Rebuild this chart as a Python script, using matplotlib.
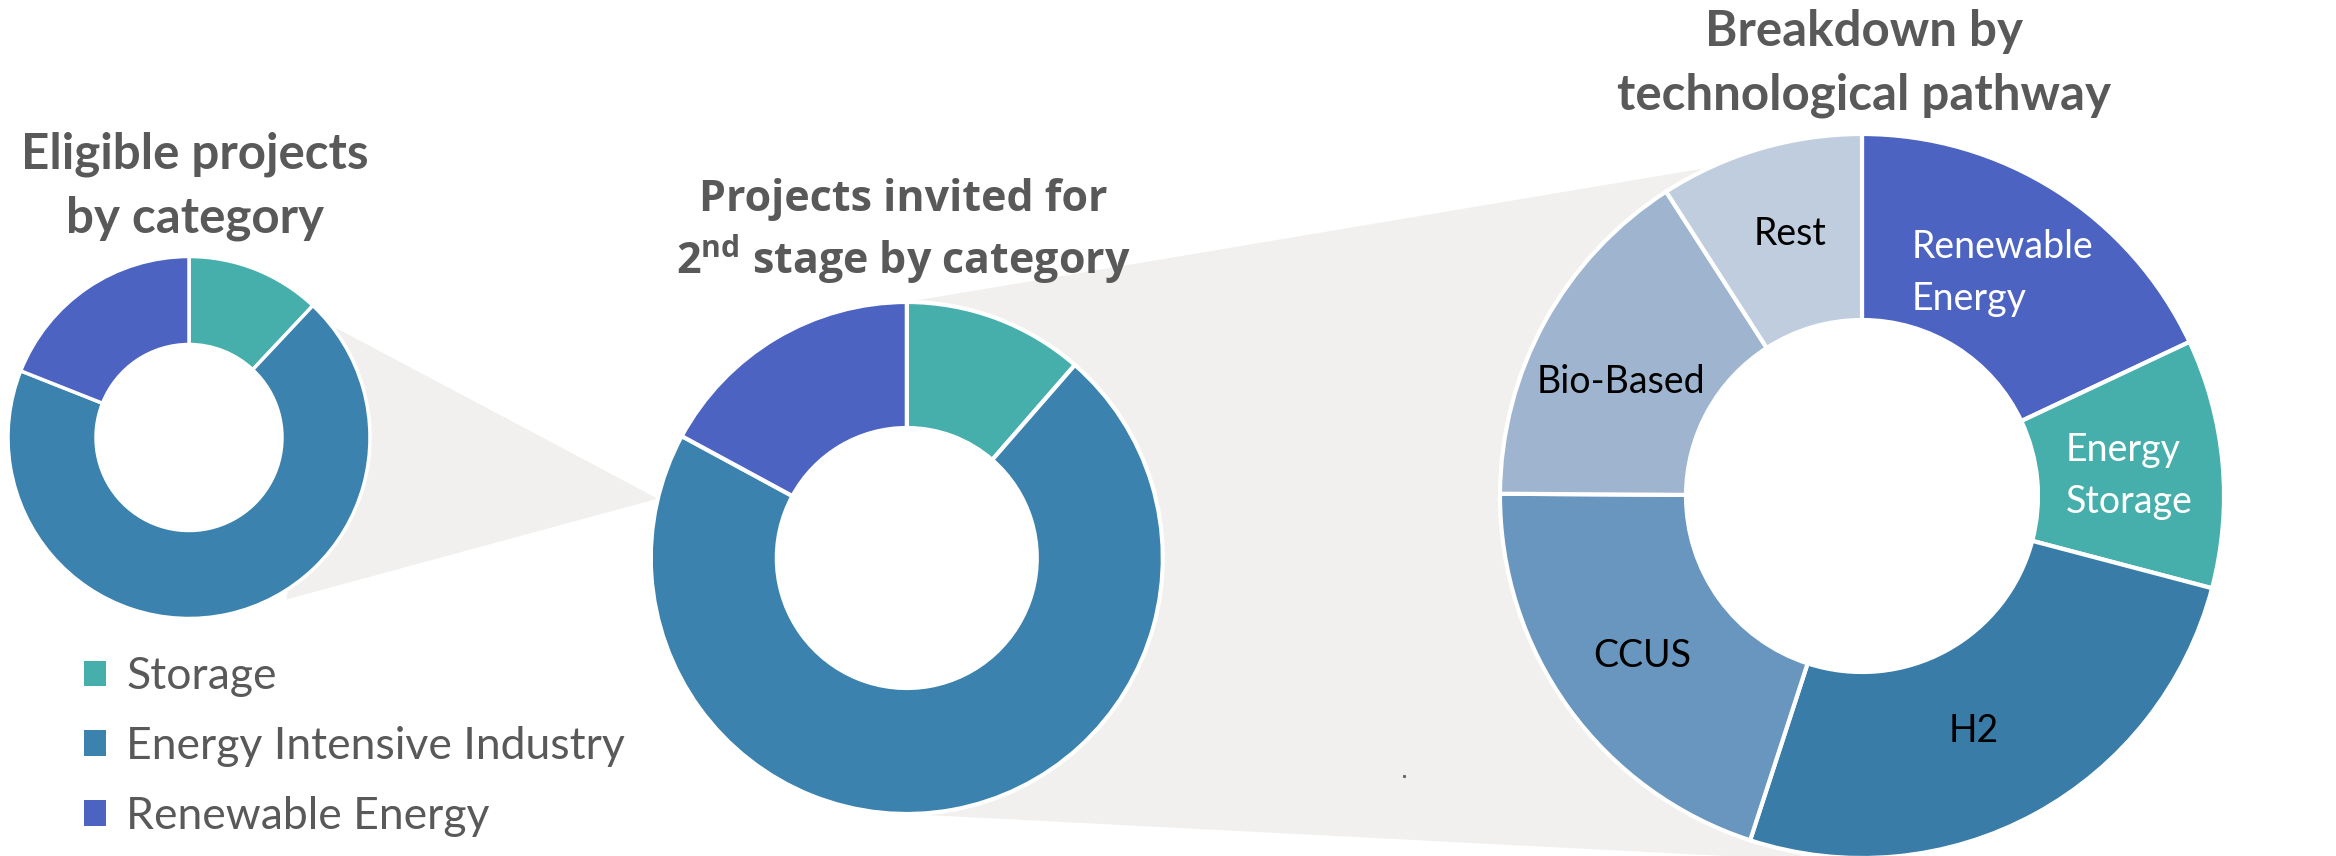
import numpy as np
import matplotlib
matplotlib.use('Agg')
import matplotlib.pyplot as plt
from matplotlib.patches import Polygon, Circle

# Data (shares in %)
categories = ['Storage', 'Energy Intensive Industry', 'Renewable Energy']
eligible = [12.0, 69.0, 19.0]
invited = [11.4, 71.5, 17.1]

pathways = ['Renewable\nEnergy', 'Energy\nStorage', 'H2', 'CCUS', 'Bio-Based', 'Rest']
pathway_share = [18.0, 11.1, 25.9, 20.1, 15.8, 9.1]

cat_colors = ['#46AFAC', '#3B82AE', '#4C63C2']
path_colors = ['#4C63C2', '#46AFAC', '#397CA8', '#6896BE', '#9EB4CF', '#BFCDDE']
path_text = ['white', 'white', 'black', 'black', 'black', 'black']

W, H = 2336, 856
GREY_TXT = '#595959'
CONNECT = '#F1F0EE'

plt.rcParams['mathtext.fontset'] = 'custom'
plt.rcParams['mathtext.rm'] = 'Open Sans'
plt.rcParams['mathtext.bf'] = 'Open Sans:bold'

fig = plt.figure(figsize=(W / 100, H / 100), dpi=100)
ax = fig.add_axes([0, 0, 1, 1])

# donut geometry in pixel coords (y goes down)
c1, r1, h1 = (189, 437.5), 181, 93
c2, r2, h2 = (906.8, 558), 256, 130
c3, r3, h3 = (1862, 496), 362, 176


def on_circle(c, r, a):
    a = np.radians(a)
    return (c[0] + r * np.cos(a), c[1] - r * np.sin(a))


# grey "zoom" connectors behind the donuts
left_conn = [on_circle(c1, r1, 38.3), on_circle(c1, r1 + 8, -59), on_circle(c2, r2, 166.6)]
ax.add_patch(Polygon(left_conn, closed=True, facecolor=CONNECT, edgecolor='none', zorder=0))
p_bot = on_circle(c2, r2, -90)
right_conn = [on_circle(c2, r2, 90), on_circle(c3, r3, 114.8), c3,
              (1800, p_bot[1] + 0.0513 * (1800 - p_bot[0])), p_bot]
ax.add_patch(Polygon(right_conn, closed=True, facecolor=CONNECT, edgecolor='none', zorder=0))
# keep the donut holes white
for c, h in [(c1, h1), (c2, h2), (c3, h3)]:
    ax.add_patch(Circle(c, h + 2, facecolor='white', edgecolor='none', zorder=0.5))

# y axis is inverted, so counterclock=True / startangle=-90 draws clockwise from the top
w1, _ = ax.pie(eligible, colors=cat_colors, center=c1, radius=r1, startangle=-90,
               counterclock=True, wedgeprops=dict(width=r1 - h1, edgecolor='white', linewidth=2.5))
ax.pie(invited, colors=cat_colors, center=c2, radius=r2, startangle=-90,
       counterclock=True, wedgeprops=dict(width=r2 - h2, edgecolor='white', linewidth=3))
ax.pie(pathway_share, colors=path_colors, center=c3, radius=r3, startangle=-90,
       counterclock=True, wedgeprops=dict(width=r3 - h3, edgecolor='white', linewidth=3))

ax.set_xlim(0, W)
ax.set_ylim(H, 0)
ax.set_aspect('equal')
ax.axis('off')

# titles
tkw = dict(ha='center', va='baseline', color=GREY_TXT, fontweight='bold')
ax.text(195, 168, 'Eligible projects', family='Lato', fontsize=35.5, **tkw)
ax.text(195, 232, 'by category', family='Lato', fontsize=35.5, **tkw)
ax.text(903, 211, 'Projects invited for', family='Open Sans', fontsize=31, **tkw)
ax.text(903, 274, r'2$^{\mathbf{nd}}$ stage by category', family='Open Sans', fontsize=31, **tkw)
ax.text(1864, 46, 'Breakdown by', family='Lato', fontsize=35.5, **tkw)
ax.text(1864, 109, 'technological pathway', family='Lato', fontsize=35.5, **tkw)

# labels on the right donut (y = baseline of the last line)
label_pos = [(1912, 310, 'left'), (2066, 513, 'left'), (1974, 741.7, 'center'),
             (1642.6, 667, 'center'), (1621, 393, 'center'), (1790, 244.5, 'center')]
for name, (x, y, ha), col in zip(pathways, label_pos, path_text):
    ax.text(x, y, name, ha=ha, va='baseline', family='Lato', fontsize=27,
            color=col, linespacing=1.55)

# stray dot from the original slide
ax.plot([1403.7], [775.7], 's', ms=1.2, color='#666666')

leg = ax.legend(w1, categories, loc='upper left', bbox_to_anchor=(84 / W, 1 - 656 / H),
                frameon=False, prop=dict(family='Lato', size=32), labelcolor=GREY_TXT,
                handlelength=0.5, handleheight=0.5, handletextpad=0.45,
                labelspacing=0.65, borderpad=0, borderaxespad=0)
for h in leg.legend_handles:
    h.set_edgecolor('none')

fig.savefig('out.png', dpi=100)
